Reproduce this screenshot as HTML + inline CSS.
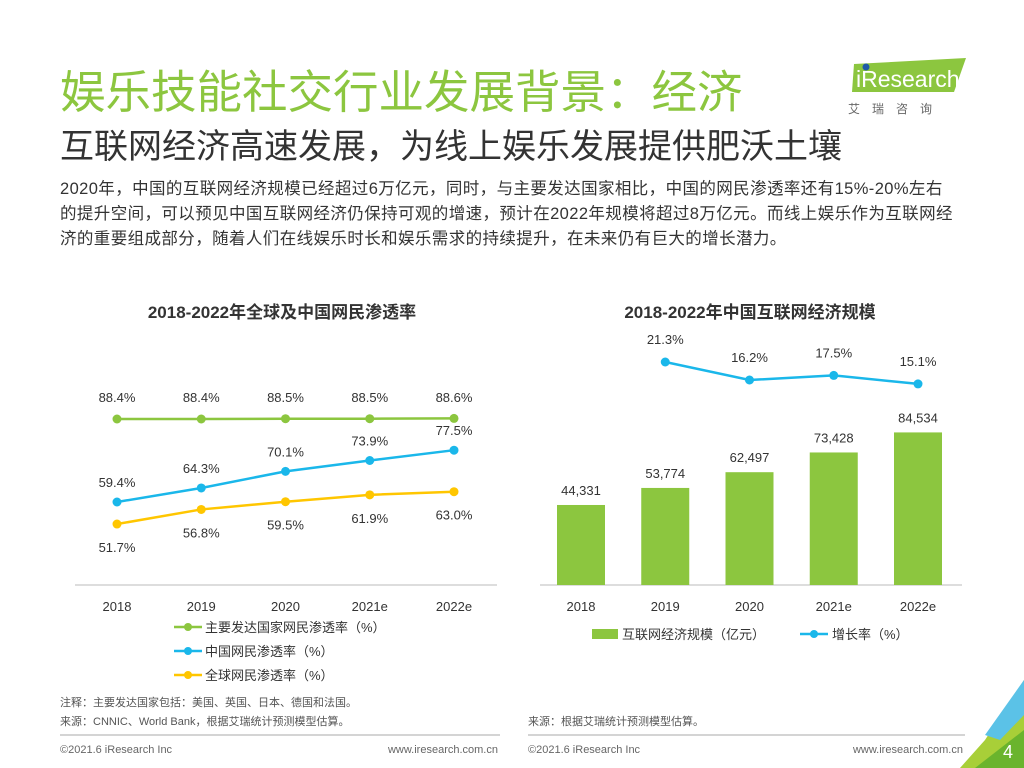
<!DOCTYPE html>
<html><head><meta charset="utf-8">
<style>
body{margin:0;width:1024px;height:768px;overflow:hidden;background:#fff;font-family:"Liberation Sans","Noto Sans CJK SC",sans-serif;position:relative}
.a{position:absolute;white-space:nowrap}
</style></head><body>
<div class="a" style="left:60px;top:56px;font-size:45.5px;color:#8cc63f">娱乐技能社交行业发展背景：经济</div>
<div class="a" style="left:60px;top:119px;font-size:34px;color:#333">互联网经济高速发展，为线上娱乐发展提供肥沃土壤</div>
<div class="a" style="left:60px;top:177px;font-size:16.5px;line-height:25px;letter-spacing:0.4px;color:#333">2020年，中国的互联网经济规模已经超过6万亿元，同时，与主要发达国家相比，中国的网民渗透率还有15%-20%左右<br>的提升空间，可以预见中国互联网经济仍保持可观的增速，预计在2022年规模将超过8万亿元。而线上娱乐作为互联网经<br>济的重要组成部分，随着人们在线娱乐时长和娱乐需求的持续提升，在未来仍有巨大的增长潜力。</div>
<div class="a" style="left:846px;top:52px;width:124px;height:66px">
<svg width="124" height="66"><polygon points="8,12 120,6 108,40 6,40" fill="#8cc63f"/><circle cx="20" cy="15" r="3.5" fill="#1e5aa8"/><text x="10" y="35" font-size="23" fill="#fff" font-family="Liberation Sans">iResearch</text><text x="2" y="61" font-size="12" fill="#666" letter-spacing="12" font-family="Noto Sans CJK SC">艾瑞咨询</text></svg></div>
<svg class="a" style="left:0;top:0" width="1024" height="768">
<text x="282" y="318" font-size="17" font-weight="bold" text-anchor="middle" fill="#333">2018-2022年全球及中国网民渗透率</text>
<text x="750" y="318" font-size="17" font-weight="bold" text-anchor="middle" fill="#333">2018-2022年中国互联网经济规模</text>
<line x1="75" y1="585" x2="497" y2="585" stroke="#bbb"/>
<line x1="540" y1="585" x2="962" y2="585" stroke="#bbb"/>
<g id="L"></g><g id="R"></g>
<g font-size="13" fill="#333">
<line x1="174" y1="627" x2="202" y2="627" stroke="#8cc63f" stroke-width="2.5"/><circle cx="188" cy="627" r="4" fill="#8cc63f"/><text x="205" y="632">主要发达国家网民渗透率（%）</text>
<line x1="174" y1="651" x2="202" y2="651" stroke="#1ab7ea" stroke-width="2.5"/><circle cx="188" cy="651" r="4" fill="#1ab7ea"/><text x="205" y="656">中国网民渗透率（%）</text>
<line x1="174" y1="675" x2="202" y2="675" stroke="#ffc600" stroke-width="2.5"/><circle cx="188" cy="675" r="4" fill="#ffc600"/><text x="205" y="680">全球网民渗透率（%）</text>
</g>
<g font-size="13" fill="#333">
<rect x="592" y="629" width="26" height="10" fill="#8cc63f"/><text x="622" y="639">互联网经济规模（亿元）</text>
<line x1="800" y1="634" x2="828" y2="634" stroke="#1ab7ea" stroke-width="2.5"/><circle cx="814" cy="634" r="4" fill="#1ab7ea"/><text x="832" y="639">增长率（%）</text>
</g>
<text x="60" y="706" font-size="11" fill="#555">注释：主要发达国家包括：美国、英国、日本、德国和法国。</text>
<text x="60" y="725" font-size="11" fill="#555">来源：CNNIC、World Bank，根据艾瑞统计预测模型估算。</text>
<text x="528" y="725" font-size="11" fill="#555">来源：根据艾瑞统计预测模型估算。</text>
<line x1="60" y1="735" x2="500" y2="735" stroke="#aaa"/><line x1="528" y1="735" x2="965" y2="735" stroke="#aaa"/>
<text x="60" y="753" font-size="11" fill="#666">©2021.6 iResearch Inc</text>
<text x="498" y="753" font-size="11" fill="#666" text-anchor="end">www.iresearch.com.cn</text>
<text x="528" y="753" font-size="11" fill="#666">©2021.6 iResearch Inc</text>
<text x="963" y="753" font-size="11" fill="#666" text-anchor="end">www.iresearch.com.cn</text>
<g><polygon points="1024,680 1024,768 960,768 985,740" fill="#a8cf38"/><polygon points="1024,680 985,735 1000,740 1024,715" fill="#5bc2e7"/><polygon points="975,768 1024,730 1024,768" fill="#6ab42d"/></g>
<text x="1003" y="758" font-size="18" fill="#fff">4</text>
</svg>
<script>
const years=["2018","2019","2020","2021e","2022e"];
const developed=[88.4,88.4,88.5,88.5,88.6];
const china=[59.4,64.3,70.1,73.9,77.5];
const globalR=[51.7,56.8,59.5,61.9,63.0];
const scale=[44331,53774,62497,73428,84534];
const growth=[null,21.3,16.2,17.5,15.1];
const NS="http://www.w3.org/2000/svg";
function mk(p,t,a){const e=document.createElementNS(NS,t);for(const k in a)e.setAttribute(k,a[k]);p.appendChild(e);return e;}
const lx=i=>117+i*84.25, ly=v=>419+(88.4-v)*2.862;
const rx=i=>581+i*84.25, ry=v=>585-v*0.001805, gy=v=>362+(21.3-v)*3.53;
const L=document.getElementById('L'),R=document.getElementById('R');
years.forEach((y,i)=>{
 const t=mk(L,'text',{x:lx(i),y:611,'font-size':13,'text-anchor':'middle',fill:'#333'});t.textContent=y;
 
 
 const t2=mk(R,'text',{x:rx(i),y:611,'font-size':13,'text-anchor':'middle',fill:'#333'});t2.textContent=y;
 
 
});
[[developed,'#8cc63f',-17,'developed'],[china,'#1ab7ea',-15,'china'],[globalR,'#ffc600',28,'global']].forEach(([d,c,off,n])=>{
 const pl=mk(L,'polyline',{points:d.map((v,i)=>lx(i)+','+ly(v)).join(' '),fill:'none',stroke:c,'stroke-width':2.5});
 
 
 d.forEach((v,i)=>{
  const ci=mk(L,'circle',{cx:lx(i),cy:ly(v),r:4.5,fill:c});
  
  
  const yy=n==='developed'?402:ly(v)+off;
  const t=mk(L,'text',{x:lx(i),y:yy,'font-size':13,'text-anchor':'middle',fill:'#333'});t.textContent=v.toFixed(1)+'%';
  
  
 });
});
scale.forEach((v,i)=>{
 const b=mk(R,'rect',{x:rx(i)-24,y:ry(v),width:48,height:585-ry(v),fill:'#8cc63f'});
 
 
 const t=mk(R,'text',{x:rx(i),y:ry(v)-10,'font-size':13,'text-anchor':'middle',fill:'#333'});t.textContent=v.toLocaleString('en-US');
 
 
});
const gp=[];growth.forEach((v,i)=>{if(v!==null)gp.push(rx(i)+','+gy(v));});
const gl=mk(R,'polyline',{points:gp.join(' '),fill:'none',stroke:'#1ab7ea','stroke-width':2.5});


growth.forEach((v,i)=>{if(v===null)return;
 const c=mk(R,'circle',{cx:rx(i),cy:gy(v),r:4.5,fill:'#1ab7ea'});
 
 
 const t=mk(R,'text',{x:rx(i),y:gy(v)-18,'font-size':13,'text-anchor':'middle',fill:'#333'});t.textContent=v.toFixed(1)+'%';
 
 
});
</script>
</body></html>
